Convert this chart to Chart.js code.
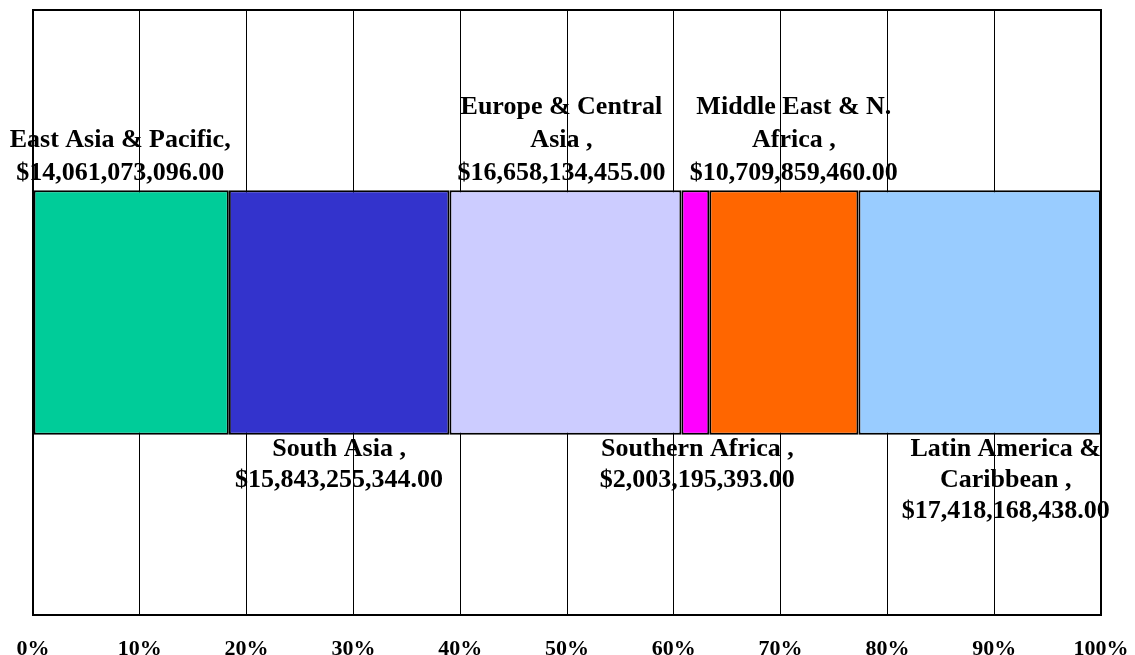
<!DOCTYPE html>
<html>
<head>
<meta charset="utf-8">
<script src="https://cdn.jsdelivr.net/npm/chart.js@4"></script>
<style>
  html, body { margin: 0; padding: 0; background: #fff; }
  #wrap { width: 1135px; height: 655px; }
</style>
</head>
<body>
<div id="wrap"><canvas id="regionChart"></canvas></div>
<script>
const regionNames = [
    ["East Asia & Pacific,"],
    ["South Asia ,"],
    ["Europe & Central", "Asia ,"],
    ["Southern Africa ,"],
    ["Middle East & N.", "Africa ,"],
    ["Latin America &", "Caribbean ,"]
];
const regionAmounts = [14061073096, 15843255344, 16658134455, 2003195393, 10709859460, 17418168438];
const regionColors = ["#00CC99", "#3333CC", "#CCCCFF", "#FF00FF", "#FF6600", "#99CCFF"];
const tickValues = [0, 10, 20, 30, 40, 50, 60, 70, 80, 90, 100];

// little sideways nudges Excel gave some labels
const labelNudge = [-11, 0, -4, 2, 10, 26];

const total = regionAmounts.reduce((a, b) => a + b, 0);
const fontFamily = '"Liberation Serif", "Times New Roman", serif';

function money(v) {
    return "$" + v.toLocaleString("en-US", { minimumFractionDigits: 2, maximumFractionDigits: 2 });
}

const labelPlugin = {
    id: "regionLabels",
    afterDatasetsDraw(chart) {
        const ctx = chart.ctx;
        const area = chart.chartArea;
        ctx.save();
        ctx.fillStyle = "#000";
        ctx.font = "bold 26px " + fontFamily;
        ctx.textAlign = "center";
        ctx.textBaseline = "alphabetic";
        chart.data.datasets.forEach((ds, i) => {
            const bar = chart.getDatasetMeta(i).data[0];
            const cx = (bar.x + bar.base) / 2 + labelNudge[i];
            const half = bar.height / 2;
            const lines = regionNames[i].concat([money(regionAmounts[i])]);
            if (i % 2 === 0) {
                let y = bar.y - half - 10;
                for (let k = lines.length - 1; k >= 0; k--) {
                    ctx.fillText(lines[k], cx, y);
                    y -= 33;
                }
            } else {
                let y = bar.y + half + 21;
                lines.forEach(line => {
                    ctx.fillText(line, cx, y);
                    y += 31;
                });
            }
        });
        // outer frame of the plot
        ctx.strokeStyle = "#000";
        ctx.lineWidth = 2;
        ctx.strokeRect(area.left, area.top, area.right - area.left, area.bottom - area.top);
        // percent ticks along the bottom
        const xs = chart.scales.x;
        ctx.font = "bold 22px " + fontFamily;
        tickValues.forEach(v => {
            ctx.fillText(v + "%", xs.getPixelForValue(v), 655);
        });
        ctx.restore();
    }
};

new Chart(document.getElementById("regionChart"), {
    type: "bar",
    data: {
        labels: ["Regions"],
        datasets: regionAmounts.map((v, i) => ({
            label: regionNames[i].join(" "),
            data: [v / total * 100],
            backgroundColor: regionColors[i],
            borderColor: "#000",
            borderWidth: 2,
            borderSkipped: false,
            categoryPercentage: 1,
            barPercentage: 0.404
        }))
    },
    options: {
        indexAxis: "y",
        responsive: true,
        maintainAspectRatio: false,
        animation: false,
        layout: { padding: { left: 33, right: 34, top: 10, bottom: 40 } },
        plugins: {
            legend: { display: false },
            tooltip: { enabled: false },
            title: { display: false }
        },
        scales: {
            x: {
                stacked: true,
                min: 0,
                max: 100,
                ticks: { stepSize: 10, display: false },
                grid: { color: "#000", lineWidth: 1, drawTicks: false },
                border: { display: false }
            },
            y: {
                stacked: true,
                display: false
            }
        }
    },
    plugins: [labelPlugin]
});
</script>
</body>
</html>
